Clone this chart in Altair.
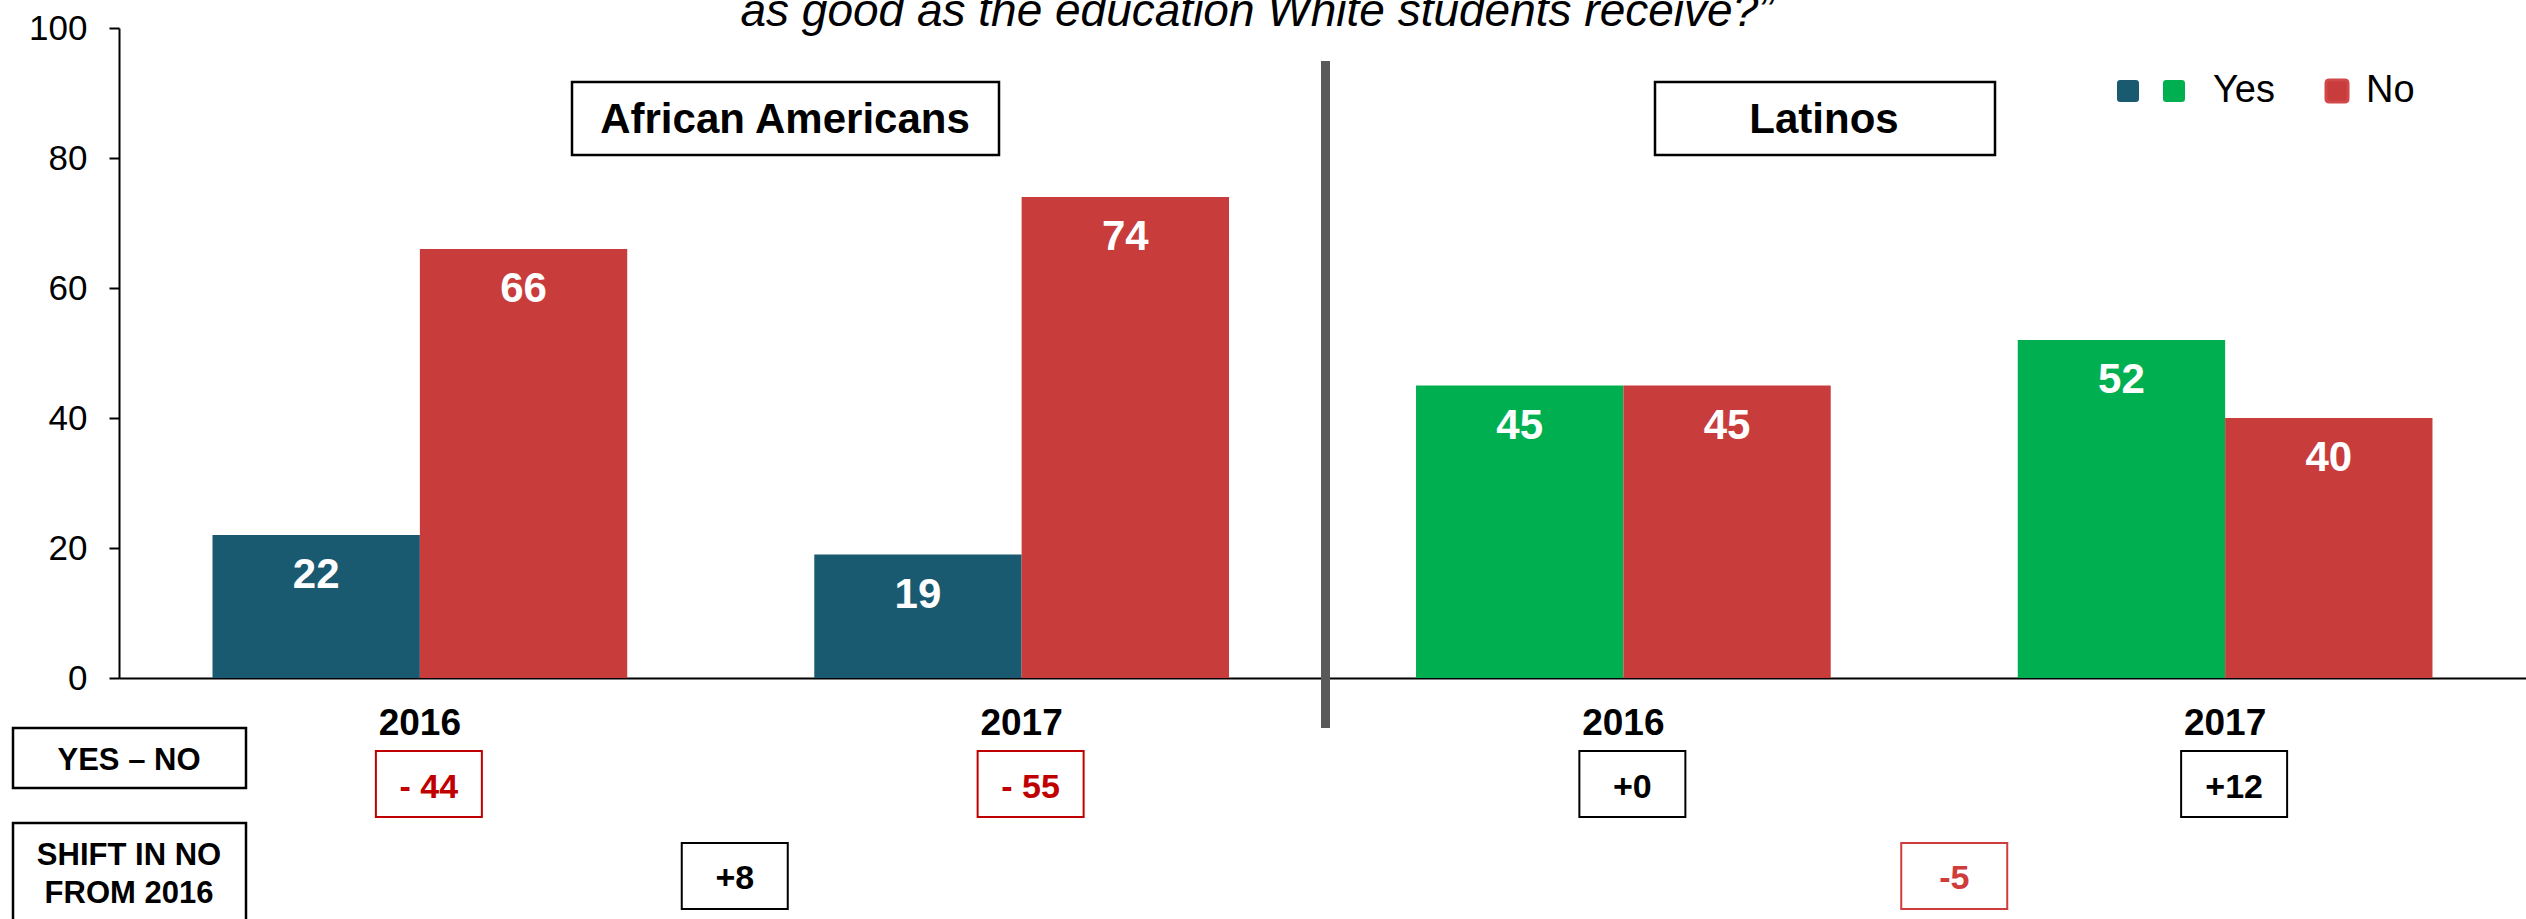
import altair as alt
import pandas as pd

# ---------------- data ----------------
populations = ["African Americans", "African Americans", "Latinos", "Latinos"]
years = ["2016", "2017", "2016", "2017"]
answers = ["Yes", "No"]
yes_values = [22, 19, 45, 52]
no_values = [66, 74, 45, 40]
yes_minus_no = [-44, -55, 0, 12]
yes_minus_no_labels = ["- 44", "- 55", "+0", "+12"]
shift_populations = ["African Americans", "Latinos"]
shift_years = ["2017", "2017"]
shift_values = [8, -5]
shift_labels = ["+8", "-5"]
y_ticks = [0, 20, 40, 60, 80, 100]
population_titles = ["African Americans", "Latinos"]
title_text = "as good as the education White students receive?\u201d"
row_label_diff = "YES \u2013 NO"
row_label_shift = ["SHIFT IN NO", "FROM 2016"]

# ---------------- tables ----------------
group_keys = [f"{p} {y}" for p, y in zip(populations, years)]
bars = pd.DataFrame({
    "group": group_keys * 2,
    "population": populations * 2,
    "year": years * 2,
    "answer": [answers[0]] * 4 + [answers[1]] * 4,
    "value": yes_values + no_values,
})
year_df = pd.DataFrame({"group": group_keys, "year": years})
diff_df = pd.DataFrame({"group": group_keys, "value": yes_minus_no, "label": yes_minus_no_labels})
shift_df = pd.DataFrame({
    "group": [f"{p} {y}" for p, y in zip(shift_populations, shift_years)],
    "value": shift_values,
    "label": shift_labels,
})
divider_df = pd.DataFrame({"group": [group_keys[2]]})
one = pd.DataFrame({"k": [0]})

FONT = "Liberation Sans"
TEAL, GREEN, RED = "#1A5A70", "#00B050", "#C83C3C"
ROUND_SQ = ("M-1,-0.7Q-1,-1,-0.7,-1H0.7Q1,-1,1,-0.7V0.7Q1,1,0.7,1"
            "H-0.7Q-1,1,-1,0.7Z")


def box_path(dx_px, w=106, h=66):
    """Rectangle outline of w x h px, shifted dx_px to the right."""
    r = w / 2
    o = dx_px / r
    hh = h / w
    return f"M{-1 + o:.4f},{-hh:.4f}H{1 + o:.4f}V{hh:.4f}H{-1 + o:.4f}Z"


DIFF_DX = 9
SHIFT_DX = [14, 30]

x_axis = alt.Axis(labels=False, ticks=False, title=None, grid=False,
                  domainColor="black", domainWidth=2)
x_scale = alt.Scale(domain=group_keys, paddingInner=0, paddingOuter=0)
x_enc = alt.X("group:N", scale=x_scale, axis=x_axis)
x_edge = alt.X("group:N", scale=x_scale, axis=x_axis, bandPosition=0)
xoff = alt.XOffset("answer:N", scale=alt.Scale(domain=answers, paddingInner=0,
                                               paddingOuter=0.451))
y_enc = alt.Y("value:Q", scale=alt.Scale(domain=[0, 100], nice=False),
              axis=alt.Axis(values=y_ticks, title=None, grid=False,
                            labelFontSize=35, labelFont=FONT, labelColor="black",
                            labelPadding=22, tickSize=10, tickColor="black",
                            tickWidth=2, domainColor="black", domainWidth=2))

legend_common = dict(title=None, orient="none", legendY=44, direction="horizontal",
                     symbolType=ROUND_SQ, symbolSize=484, labelFontSize=38,
                     labelFont=FONT, labelColor="black", padding=0)

base = alt.Chart(bars)

yes_bars = base.transform_filter("datum.answer == 'Yes'").mark_bar().encode(
    x=x_enc, xOffset=xoff, y=y_enc,
    color=alt.Color("population:N",
                    scale=alt.Scale(domain=population_titles, range=[TEAL, GREEN]),
                    legend=alt.Legend(legendX=2036, values=[population_titles[1]],
                                      symbolStrokeWidth=0, labelOffset=20,
                                      labelExpr="'Yes'", **legend_common)),
)

# teal key square (the African-American "Yes" colour) shown before the green one
teal_key = base.transform_filter("false").mark_point(
    filled=True, opacity=1, color=TEAL).encode(
    x=x_enc, y=y_enc,
    shape=alt.Shape("population:N",
                    scale=alt.Scale(domain=[population_titles[0]], range=[ROUND_SQ]),
                    legend=alt.Legend(legendX=1990, symbolFillColor=TEAL,
                                      symbolStrokeWidth=0, symbolOpacity=1,
                                      labelOffset=0, labelExpr="''",
                                      **legend_common)),
)

no_bars = base.transform_filter("datum.answer == 'No'").mark_bar().encode(
    x=x_enc, xOffset=xoff, y=y_enc,
    fill=alt.Fill("answer:N", scale=alt.Scale(domain=["No"], range=[RED]),
                  legend=alt.Legend(legendX=2199, symbolStrokeColor="#D04848",
                                    symbolStrokeWidth=3, labelOffset=10,
                                    **legend_common)),
)

bar_labels = base.mark_text(font=FONT, fontSize=42, fontWeight="bold",
                            color="white", dy=53, baseline="alphabetic").encode(
    x=x_enc, xOffset=xoff, y=y_enc, text="value:Q")

year_labels = alt.Chart(year_df).mark_text(
    font=FONT, fontSize=37, fontWeight="bold", color="black",
    baseline="alphabetic").encode(x=x_enc, y=alt.value(707), text="year:N")

divider = alt.Chart(divider_df).mark_rule(color="#595959", strokeWidth=9).encode(
    x=alt.X("group:N", scale=x_scale, axis=x_axis, bandPosition=0.005),
    y=alt.value(33), y2=alt.value(700))

diff_color = alt.condition("datum.value < 0", alt.value("#C00000"), alt.value("black"))
diff_boxes = alt.Chart(diff_df).mark_point(shape=box_path(DIFF_DX), size=106 ** 2,
                                           filled=False, strokeWidth=2, opacity=1).encode(
    x=x_enc, y=alt.value(756), color=diff_color)
diff_text = alt.Chart(diff_df).mark_text(font=FONT, fontSize=34, fontWeight="bold",
                                         baseline="alphabetic", dx=DIFF_DX).encode(
    x=x_enc, y=alt.value(770), text="label:N", color=diff_color)

shift_color = alt.condition("datum.value < 0", alt.value("#D03C3C"), alt.value("black"))
shift_layers = []
for key, off in zip(shift_df["group"], SHIFT_DX):
    src = alt.Chart(shift_df).transform_filter(alt.datum.group == key)
    shift_layers.append(src.mark_point(shape=box_path(off), size=106 ** 2, filled=False,
                                       strokeWidth=2, opacity=1).encode(
        x=x_edge, y=alt.value(848), color=shift_color))
    shift_layers.append(src.mark_text(font=FONT, fontSize=34, fontWeight="bold",
                                      baseline="alphabetic", dx=off).encode(
        x=x_edge, y=alt.value(861), text="label:N", color=shift_color))

ann = alt.Chart(one)


def frame(x1, x2, y1, y2):
    return ann.mark_rect(fillOpacity=0, stroke="black", strokeWidth=2.5).encode(
        x=alt.value(x1), x2=alt.value(x2), y=alt.value(y1), y2=alt.value(y2))


def label(txt, x, y, size, **kw):
    return ann.mark_text(font=FONT, fontSize=size, color="black",
                         baseline="alphabetic", **kw).encode(
        x=alt.value(x), y=alt.value(y), text=alt.value(txt))


annotations = [
    frame(453, 880, 54, 127), label(population_titles[0], 666, 105, 42, fontWeight="bold"),
    frame(1536, 1876, 54, 127), label(population_titles[1], 1705, 105, 42, fontWeight="bold"),
    frame(-106, 127, 700, 760), label(row_label_diff, 10, 742, 31, fontWeight="bold"),
    frame(-106, 127, 795, 960), label(row_label_shift, 10, 837, 31, fontWeight="bold",
                                      lineHeight=38),
    label(title_text, 1138, -2, 46, fontStyle="italic"),
]

chart = alt.layer(
    yes_bars, teal_key, no_bars, bar_labels, year_labels, divider,
    diff_boxes, diff_text, *shift_layers, *annotations,
).properties(
    width=2407, height=650,
    padding={"left": 119, "top": 28, "right": 0, "bottom": 241},
    autosize=alt.AutoSizeParams(type="none"),
    background="white",
).configure_view(stroke=None)

chart.save("out.html", embed_options={"renderer": "svg", "actions": False})
